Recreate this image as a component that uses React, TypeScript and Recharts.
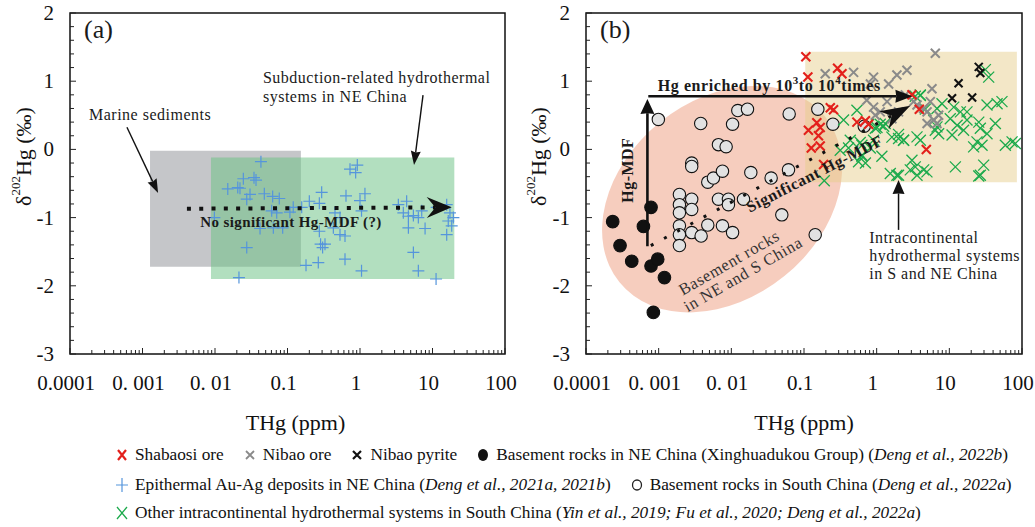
import React from 'react';
import { ScatterChart, Scatter, XAxis, YAxis, ReferenceArea, ReferenceLine, ReferenceDot, Label } from 'recharts';

const FONT = '"Liberation Serif", "Times New Roman", Times, serif';

// ---------- axes ----------
const X_MAJOR = [0.0001, 0.001, 0.01, 0.1, 1, 10, 100];
const X_MAJOR_LABELS = ['0.0001', '0. 001', '0. 01', '0.1', '1', '10', '100'];
const X_MINOR_MULT = [2, 3, 4, 5, 6, 7, 8, 9];
const Y_MAJOR = [-3, -2, -1, 0, 1, 2];
const Y_MAJOR_LABELS = ['-3', '-2', '-1', '0', '1', '2'];
const Y_MINOR_COUNT = 26; // every 0.2 from -3 to 2

const X_TICKS = [...X_MAJOR, ...X_MAJOR.slice(0, -1).flatMap((d) => X_MINOR_MULT.map((m) => m * d))].sort((a, b) => a - b);
const Y_TICKS = Array.from({ length: Y_MINOR_COUNT }, (_, i) => Math.round((-3 + i * 0.2) * 10) / 10);

// ---------- panel (a) data ----------
const epithermalAuAg: number[][] = [
  [0.043, -0.18], [0.015, -0.58], [0.0206, -0.56], [0.0246, -0.43], [0.0345, -0.415], [0.0368, -0.45],
  [0.0274, -0.73], [0.0304, -0.66], [0.0479, -0.65], [0.0624, -0.69], [0.077, -0.72], [0.0098, -1.0],
  [0.0418, -1.16], [0.0638, -1.15], [0.0858, -1.15], [0.0274, -1.44], [0.0214, -1.88], [0.728, -0.29],
  [0.918, -0.23], [0.871, -0.34], [0.296, -0.63], [0.641, -0.68], [1.17, -0.65], [1.0, -0.75],
  [0.2, -0.76], [0.275, -0.79], [0.12, -0.85], [0.108, -0.92], [0.429, -1.15], [0.53, -1.25],
  [0.621, -1.27], [0.286, -1.39], [0.329, -1.39], [0.305, -1.44], [0.275, -1.2], [0.621, -1.61],
  [0.266, -1.66], [0.18, -1.7], [1.05, -1.78], [4.4, -0.76], [3.38, -0.81], [3.96, -0.93],
  [4.65, -0.98], [5.45, -0.97], [6.38, -1.0], [7.1, -0.9], [7.9, -1.16], [4.65, -1.15],
  [5.45, -1.51], [6.38, -1.78], [11.2, -1.9], [15.7, -0.81], [17.4, -0.93], [19.4, -1.0],
  [16.5, -1.05], [15.7, -1.25], [18.4, -1.12], [11.4, -0.85], [0.53, -1.0], [0.157, -0.85],
  [0.0605, -0.9], [0.071, -0.93], [0.452, -0.93], [1.05, -0.9], [0.0221, -0.57],
];

// ---------- panel (b) data ----------
const basementNE: number[][] = [
  [0.000233, -1.06], [0.000294, -1.41], [0.000426, -1.64], [0.000617, -1.13], [0.000785, -0.85],
  [0.000785, -1.71], [0.00097, -1.61], [0.0012, -1.88], [0.000845, -2.39],
];
const basementSouth: number[][] = [
  [0.00099, 0.44], [0.00379, 0.38], [0.0104, 0.37], [0.01228, 0.57], [0.01668, 0.59], [0.0625, 0.52],
  [0.155, 0.59], [0.25, 0.37], [0.00665, 0.07], [0.00848, 0.04], [0.00285, -0.2], [0.00285, -0.25],
  [0.00474, -0.48], [0.00567, -0.42], [0.00755, -0.32], [0.01854, -0.34], [0.0612, -0.3], [0.0353, -0.42],
  [0.00193, -0.66], [0.00193, -0.81], [0.00193, -0.93], [0.00193, -1.12], [0.00193, -1.25], [0.00193, -1.41],
  [0.00285, -0.73], [0.00285, -0.88], [0.00285, -1.22], [0.00384, -1.27], [0.00474, -1.11], [0.00665, -0.73],
  [0.00912, -0.73], [0.00912, -0.81], [0.00755, -1.12], [0.0104, -1.22], [0.0147, -0.73], [0.0495, -0.96],
  [0.1426, -1.25], [0.675, 0.34],
];
const otherIntracontinental: number[][] = [
  [31.3, 1.17], [34.8, 1.06], [3.99, 0.79], [6.76, 0.6], [7.93, 0.67], [11.5, 0.62], [14.2, 0.55],
  [17.5, 0.55], [33.0, 0.65], [45.4, 0.67], [53, 0.7], [0.535, 0.574], [0.35, 0.43], [1.31, 0.38],
  [0.957, 0.31], [6.08, 0.43], [6.76, 0.33], [10.3, 0.45], [12.8, 0.355], [17.5, 0.43], [25.4, 0.4],
  [26.7, 0.31], [43, 0.38], [33, 0.23], [2.0, 0.16], [2.35, 0.135], [3.59, 0.184], [3.99, 0.135],
  [6.41, 0.28], [7.13, 0.23], [10.9, 0.21], [15.7, 0.28], [24, 0.11], [21.6, 0.037], [28.2, 0.06],
  [59, 0.06], [73, 0.11], [81, 0.086], [0.315, -0.012], [0.627, -0.085], [0.563, -0.18], [1.54, -0.354],
  [2.0, -0.378], [3.4, -0.256], [3.59, -0.378], [4.92, -0.33], [12.1, -0.256], [29.7, -0.23],
  [26.7, -0.378], [0.19, -0.46], [0.41, 0.02], [0.627, -0.1], [0.7, -0.2], [1.01, 0.32], [1.18, -0.1],
  [0.817, 0.02], [0.594, 0.1], [2.0, 0.22], [25.4, -0.39], [3.98, 0.8], [3.4, 0.78], [4.68, 0.59],
  [0.774, 0.37], [1.12, 0.37], [1.25, 0.34], [0.906, 0.135], [0.627, 0.06], [0.433, 0.135], [1.62, 0.18],
  [2.34, 0.135], [1.9, -0.38], [2.9, -0.3], [4.43, -0.3], [3.06, -0.16],
];
const nibaoOre: number[][] = [
  [0.196, 1.11], [0.481, 1.13], [0.906, 1.06], [1.9, 1.09], [2.61, 1.16], [6.41, 1.41], [0.82, 0.96],
  [1.46, 0.96], [0.73, 0.72], [0.906, 0.62], [1.39, 0.7], [2.0, 0.55], [1.12, 0.55], [3.59, 0.65],
  [5.77, 0.89], [5.47, 0.7], [4.94, 0.55], [7.13, 0.5], [6.08, 0.43], [3.22, 0.7], [0.957, 0.5],
  [1.62, 0.45], [2.48, 0.8], [4.43, 0.6], [6.76, 0.38], [4.94, 0.38],
];
const shabaosiOre: number[][] = [
  [0.106, 1.36], [0.113, 1.06], [0.29, 1.19], [0.333, 1.11], [0.23, 0.61], [0.255, 0.58], [0.115, 0.28],
  [0.15, 0.39], [0.167, 0.32], [0.158, 0.2], [0.126, 0.02], [0.167, 0.05], [0.186, -0.22], [0.535, 0.4],
  [0.7, 0.42], [0.774, 0.37], [3.06, 0.8], [3.86, 0.59], [4.82, 0.0],
];
const nibaoPyrite: number[][] = [[25.4, 1.21], [26.7, 1.12], [13.4, 0.97], [10.9, 0.75], [20.6, 0.76]];

// ---------- fields & annotations (data coordinates) ----------
const MARINE_BOX = { x1: 0.00127, x2: 0.153, y1: -1.72, y2: -0.02 };
const SUBDUCTION_BOX = { x1: 0.0088, x2: 20, y1: -1.9, y2: -0.12 };
const INTRA_BOX = { x1: 0.104, x2: 85, y1: -0.48, y2: 1.43 };
const BASEMENT_CENTER = { x: 0.00746, y: -0.73 };

const toPts = (arr: number[][]) => arr.map(([x, y]) => ({ x, y }));

const LEGEND_ROWS = [
  [
    { m: 'xRed', t: 'Shabaosi ore' },
    { m: 'xGray', t: 'Nibao ore' },
    { m: 'xBlack', t: 'Nibao pyrite' },
    { m: 'dotBlack', t: 'Basement rocks in NE China (Xinghuadukou Group) (', i: 'Deng et al., 2022b', e: ')' },
  ],
  [
    { m: 'plusBlue', t: 'Epithermal Au-Ag deposits in NE China (', i: 'Deng et al., 2021a, 2021b', e: ')' },
    { m: 'dotGray', t: 'Basement rocks in South China (', i: 'Deng et al., 2022a', e: ')' },
  ],
  [
    { m: 'xGreen', t: 'Other intracontinental hydrothermal systems in South China (', i: 'Yin et al., 2019; Fu et al., 2020; Deng et al., 2022a', e: ')' },
  ],
];

// ---------- colors ----------
const C = {
  red: '#e3201b',
  gray: '#8a8a8a',
  black: '#111111',
  green: '#1caa4c',
  blue: '#5595dc',
  circleFill: '#e2e2e2',
  marine: '#c5c6c9',
  subduction: '#6cc184',
  intra: '#e6cc8a',
  basement: '#f3bca8',
  text: '#1a1a1a',
};

// ---------- marker shapes ----------
const xShape = (color: string, r: number, sw: number) => (p: any) => {
  const { cx, cy } = p;
  if (cx == null || cy == null) return <g />;
  return (
    <path d={`M${cx - r},${cy - r}L${cx + r},${cy + r}M${cx - r},${cy + r}L${cx + r},${cy - r}`} stroke={color} strokeWidth={sw} fill="none" />
  );
};
const plusShape = (color: string, r: number, sw: number) => (p: any) => {
  const { cx, cy } = p;
  if (cx == null || cy == null) return <g />;
  return <path d={`M${cx - r},${cy}L${cx + r},${cy}M${cx},${cy - r}L${cx},${cy + r}`} stroke={color} strokeWidth={sw} fill="none" />;
};
const circleShape = (fill: string, stroke: string, r: number) => (p: any) => {
  const { cx, cy } = p;
  if (cx == null || cy == null) return <g />;
  return <circle cx={cx} cy={cy} r={r} fill={fill} stroke={stroke} strokeWidth={1.1} />;
};

// ---------- arrow shape for ReferenceLine ----------
type ArrowOpt = { w: number; len: number; hw: number; notch?: number; dash?: string; color?: string };
const arrowShape = (o: ArrowOpt) => (p: any) => {
  const { x1, y1, x2, y2 } = p;
  if ([x1, y1, x2, y2].some((v) => v == null || isNaN(v))) return <g />;
  const dx = x2 - x1;
  const dy = y2 - y1;
  const L = Math.hypot(dx, dy) || 1;
  const ux = dx / L;
  const uy = dy / L;
  const nx = -uy;
  const ny = ux;
  const bx = x2 - ux * o.len;
  const by = y2 - uy * o.len;
  const notch = o.notch ?? 0;
  const mx = x2 - ux * o.len * (1 - notch);
  const my = y2 - uy * o.len * (1 - notch);
  const h = o.hw / 2;
  const col = o.color ?? '#111';
  const pts = `${x2},${y2} ${bx + nx * h},${by + ny * h} ${mx},${my} ${bx - nx * h},${by - ny * h}`;
  return (
    <g>
      <line x1={x1} y1={y1} x2={mx} y2={my} stroke={col} strokeWidth={o.w} strokeDasharray={o.dash} />
      <polygon points={pts} fill={col} />
    </g>
  );
};

// ---------- text shapes for ReferenceDot ----------
type TOpt = { size: number; weight?: string | number; anchor?: 'start' | 'middle' | 'end'; rotate?: number; lh?: number; ls?: number; color?: string };
const textShape = (lines: string[], o: TOpt) => (p: any) => {
  const { cx, cy } = p;
  if (cx == null || cy == null) return <g />;
  return (
    <text
      x={cx}
      y={cy}
      fontFamily={FONT}
      fontSize={o.size}
      fontWeight={o.weight ?? 'normal'}
      textAnchor={o.anchor ?? 'start'}
      letterSpacing={o.ls ?? 0}
      fill={o.color ?? C.text}
      transform={o.rotate ? `rotate(${o.rotate} ${cx} ${cy})` : undefined}
    >
      {lines.map((l, i) => (
        <tspan key={i} x={cx} dy={i === 0 ? 0 : o.lh ?? o.size * 1.15}>
          {l}
        </tspan>
      ))}
    </text>
  );
};

const enrichedShape = (p: any) => {
  const { cx, cy } = p;
  if (cx == null || cy == null) return <g />;
  return (
    <text x={cx} y={cy} fontFamily={FONT} fontSize={16} fontWeight="bold" textAnchor="middle" letterSpacing={0.6} fill={C.text}>
      Hg enriched by 10
      <tspan fontSize={11} dy={-7}>3</tspan>
      <tspan dy={7}>to 10</tspan>
      <tspan fontSize={11} dy={-7}>4</tspan>
      <tspan dy={7}>times</tspan>
    </text>
  );
};

const ellipseShape = (p: any) => {
  const { cx, cy } = p;
  if (cx == null || cy == null) return <g />;
  return <ellipse cx={cx} cy={cy} rx={132} ry={99} transform={`rotate(-39 ${cx} ${cy})`} fill={C.basement} fillOpacity={0.75} />;
};

// ---------- axis ticks & labels ----------
const XTick = (p: any) => {
  const { x, y, payload } = p;
  const v = payload?.value;
  const i = X_MAJOR.findIndex((m) => Math.abs(Math.log10(m) - Math.log10(v)) < 1e-6);
  const major = i >= 0;
  return (
    <g>
      <line x1={x} y1={y} x2={x} y2={y - (major ? 6 : 4)} stroke="#222" strokeWidth={1} />
      {major && (
        <text x={x - 4} y={y + 36} textAnchor="middle" fontFamily={FONT} fontSize={21} fill="#111">
          {X_MAJOR_LABELS[i]}
        </text>
      )}
    </g>
  );
};
const YTick = (p: any) => {
  const { x, y, payload } = p;
  const v = payload?.value;
  const i = Y_MAJOR.findIndex((m) => Math.abs(m - v) < 1e-6);
  const major = i >= 0;
  return (
    <g>
      <line x1={x} y1={y} x2={x + (major ? 6 : 4)} y2={y} stroke="#222" strokeWidth={1} />
      {major && (
        <text x={x - 16} y={y + 7} textAnchor="end" fontFamily={FONT} fontSize={21} fill="#111">
          {Y_MAJOR_LABELS[i]}
        </text>
      )}
    </g>
  );
};

const xLabelContent = (shift: number) => (p: any) => {
  const vb = p?.viewBox || { x: 70, y: 354, width: 435, height: 86 };
  return (
    <text x={vb.x + vb.width / 2 + shift} y={vb.y + 76} textAnchor="middle" fontFamily={FONT} fontSize={22} fill="#111">
      THg (ppm)
    </text>
  );
};
const yLabelContent = (p: any) => {
  const vb = p?.viewBox || { x: 0, y: 13, width: 70, height: 341 };
  const cx = vb.x + 23;
  const cy = vb.y + vb.height / 2 - 27;
  return (
    <text x={cx} y={cy} transform={`rotate(-90 ${cx} ${cy})`} textAnchor="middle" dominantBaseline="central" fontFamily={FONT} fontSize={22} fill="#111">
      δ<tspan fontSize={13} dy={-8}>202</tspan>
      <tspan dy={8}>Hg (‰)</tspan>
    </text>
  );
};

const axesFor = (yWidth: number, xShift: number) => [
  <XAxis
    key="x"
    type="number"
    dataKey="x"
    scale="log"
    domain={[0.0001, 100]}
    allowDataOverflow
    ticks={X_TICKS}
    interval={0}
    tick={XTick}
    tickLine={false}
    axisLine={false}
    tickSize={0}
    tickMargin={0}
    height={86}
  >
    <Label content={xLabelContent(xShift)} />
  </XAxis>,
  <YAxis
    key="y"
    type="number"
    dataKey="y"
    domain={[-3, 2]}
    allowDataOverflow
    ticks={Y_TICKS}
    interval={0}
    tick={YTick}
    tickLine={false}
    axisLine={false}
    tickSize={0}
    tickMargin={0}
    width={yWidth}
  >
    <Label content={yLabelContent} />
  </YAxis>,
];

const frame = (
  <ReferenceArea key="frame" x1={0.0001} x2={100} y1={-3} y2={2} fill="none" fillOpacity={0} stroke="#111" strokeWidth={1.5} ifOverflow="visible" {...({ zIndex: 900 } as any)} />
);

const Z_TOP = { zIndex: 800 } as any;

// ---------- legend ----------
const LegendMarker = ({ m }: { m: string }) => {
  const s = 16;
  const c = s / 2;
  let el: React.ReactNode = null;
  if (m === 'xRed') el = <path d={`M${c - 4},${c - 5}L${c + 4},${c + 5}M${c - 4},${c + 5}L${c + 4},${c - 5}`} stroke={C.red} strokeWidth={2.2} />;
  if (m === 'xGray') el = <path d={`M${c - 4},${c - 4}L${c + 4},${c + 4}M${c - 4},${c + 4}L${c + 4},${c - 4}`} stroke={C.gray} strokeWidth={1.8} />;
  if (m === 'xBlack') el = <path d={`M${c - 4},${c - 4}L${c + 4},${c + 4}M${c - 4},${c + 4}L${c + 4},${c - 4}`} stroke={C.black} strokeWidth={2.2} />;
  if (m === 'xGreen') el = <path d={`M${c - 5},${c - 6}L${c + 5},${c + 6}M${c - 5},${c + 6}L${c + 5},${c - 6}`} stroke={C.green} strokeWidth={1.3} />;
  if (m === 'plusBlue') el = <path d={`M${c - 6},${c}L${c + 6},${c}M${c},${c - 7}L${c},${c + 7}`} stroke={C.blue} strokeWidth={1.2} />;
  if (m === 'dotBlack') el = <ellipse cx={c} cy={c} rx={5} ry={6} fill={C.black} />;
  if (m === 'dotGray') el = <ellipse cx={c} cy={c} rx={4.5} ry={5} fill="#fff" stroke="#222" strokeWidth={1.3} />;
  return (
    <svg width={s} height={s} style={{ display: 'block', flex: '0 0 auto' }}>
      {el}
    </svg>
  );
};

const LEGEND_TOPS = [445, 475, 503];

const Legend = () => (
  <>
    {LEGEND_ROWS.map((row, ri) => (
      <div
        key={ri}
        style={{ position: 'absolute', left: 114, top: LEGEND_TOPS[ri], height: 20, display: 'flex', alignItems: 'center', whiteSpace: 'nowrap', fontFamily: FONT, fontSize: 17.3, color: '#111' }}
      >
        {row.map((it: any, k) => (
          <div key={k} style={{ display: 'flex', alignItems: 'center', marginRight: 18 }}>
            <LegendMarker m={it.m} />
            <span style={{ marginLeft: 5 }}>
              {it.t}
              {it.i && <i>{it.i}</i>}
              {it.e}
            </span>
          </div>
        ))}
      </div>
    ))}
  </>
);

export default function App() {
  return (
    <div style={{ position: 'absolute', left: 0, top: 0, width: 1035, height: 527, background: '#fff', overflow: 'hidden' }}>
      {/* Panel (a) */}
      <div style={{ position: 'absolute', left: 0, top: 0 }}>
        <ScatterChart width={520} height={440} margin={{ top: 13, right: 15, bottom: 0, left: 0 }}>
          {axesFor(70, 8)}
          <ReferenceArea x1={MARINE_BOX.x1} x2={MARINE_BOX.x2} y1={MARINE_BOX.y1} y2={MARINE_BOX.y2} fill={C.marine} fillOpacity={1} stroke="none" />
          <ReferenceArea x1={SUBDUCTION_BOX.x1} x2={SUBDUCTION_BOX.x2} y1={SUBDUCTION_BOX.y1} y2={SUBDUCTION_BOX.y2} fill={C.subduction} fillOpacity={0.52} stroke="none" />
          <Scatter data={toPts(epithermalAuAg)} shape={plusShape(C.blue, 6, 1.2)} isAnimationActive={false} />
          <ReferenceLine segment={[{ x: 0.0041, y: -0.87 }, { x: 18.4, y: -0.85 }]} ifOverflow="visible" shape={arrowShape({ w: 4, len: 25, hw: 21, notch: 0.35, dash: '4 8.3' })} {...Z_TOP} />
          <ReferenceLine segment={[{ x: 0.00061, y: 0.325 }, { x: 0.00164, y: -0.64 }]} ifOverflow="visible" shape={arrowShape({ w: 1.4, len: 14, hw: 10, notch: 0.1 })} {...Z_TOP} />
          <ReferenceLine segment={[{ x: 7.4, y: 0.795 }, { x: 5.56, y: -0.23 }]} ifOverflow="visible" shape={arrowShape({ w: 1.4, len: 14, hw: 10, notch: 0.1 })} {...Z_TOP} />
          <ReferenceDot x={0.1117} y={-1.14} ifOverflow="visible" shape={textShape(['No significant Hg-MDF (?)'], { size: 15, weight: 'bold', anchor: 'middle', ls: 0.4 })} {...Z_TOP} />
          <ReferenceDot x={0.000183} y={0.43} ifOverflow="visible" shape={textShape(['Marine sediments'], { size: 16, ls: 0.5 })} {...Z_TOP} />
          <ReferenceDot x={0.0459} y={0.97} ifOverflow="visible" shape={textShape(['Subduction-related hydrothermal', 'systems in NE China'], { size: 16, ls: 0.5, lh: 19 })} {...Z_TOP} />
          <ReferenceDot x={0.000156} y={1.63} ifOverflow="visible" shape={textShape(['(a)'], { size: 26 })} {...Z_TOP} />
          {frame}
        </ScatterChart>
      </div>

      {/* Panel (b) */}
      <div style={{ position: 'absolute', left: 515, top: 0 }}>
        <ScatterChart width={520} height={440} margin={{ top: 13, right: 13, bottom: 0, left: 0 }}>
          {axesFor(71, 0)}
          <ReferenceDot x={BASEMENT_CENTER.x} y={BASEMENT_CENTER.y} ifOverflow="visible" shape={ellipseShape} {...({ zIndex: 90 } as any)} />
          <ReferenceArea x1={INTRA_BOX.x1} x2={INTRA_BOX.x2} y1={INTRA_BOX.y1} y2={INTRA_BOX.y2} fill={C.intra} fillOpacity={0.48} stroke="none" />
          <Scatter data={toPts(basementNE)} shape={circleShape(C.black, C.black, 6.3)} isAnimationActive={false} />
          <Scatter data={toPts(basementSouth)} shape={circleShape(C.circleFill, '#111', 6.2)} isAnimationActive={false} />
          <Scatter data={toPts(otherIntracontinental)} shape={xShape(C.green, 5.5, 1.3)} isAnimationActive={false} />
          <Scatter data={toPts(nibaoOre)} shape={xShape(C.gray, 4.5, 2)} isAnimationActive={false} />
          <Scatter data={toPts(shabaosiOre)} shape={xShape(C.red, 4.5, 2.1)} isAnimationActive={false} />
          <Scatter data={toPts(nibaoPyrite)} shape={xShape(C.black, 4, 2.1)} isAnimationActive={false} />
          <ReferenceLine segment={[{ x: 0.0007, y: -1.42 }, { x: 0.0007, y: 0.74 }]} ifOverflow="visible" shape={arrowShape({ w: 2.6, len: 15, hw: 14, notch: 0.05 })} {...Z_TOP} />
          <ReferenceLine segment={[{ x: 0.00072, y: 0.78 }, { x: 3.1, y: 0.78 }]} ifOverflow="visible" shape={arrowShape({ w: 2.6, len: 17, hw: 13, notch: 0.05 })} {...Z_TOP} />
          <ReferenceLine segment={[{ x: 0.00078, y: -1.41 }, { x: 2.9, y: 0.64 }]} ifOverflow="visible" shape={arrowShape({ w: 3, len: 30, hw: 20, notch: 0.3, dash: '3 12' })} {...Z_TOP} />
          <ReferenceLine segment={[{ x: 2.0, y: -1.18 }, { x: 2.0, y: -0.45 }]} ifOverflow="visible" shape={arrowShape({ w: 1.5, len: 14, hw: 12, notch: 0.05 })} {...Z_TOP} />
          <ReferenceDot x={0.0332} y={0.85} ifOverflow="visible" shape={enrichedShape} {...Z_TOP} />
          <ReferenceDot x={0.000449} y={-0.305} ifOverflow="visible" shape={textShape(['Hg-MDF'], { size: 16, weight: 'bold', anchor: 'middle', rotate: -90, ls: 0.5 })} {...Z_TOP} />
          <ReferenceDot x={0.151} y={-0.426} ifOverflow="visible" shape={textShape(['Significant Hg-MDF'], { size: 16, weight: 'bold', anchor: 'middle', rotate: -27, ls: 0.6 })} {...Z_TOP} />
          <ReferenceDot x={0.01017} y={-1.73} ifOverflow="visible" shape={textShape(['Basement  rocks'], { size: 16.5, anchor: 'middle', rotate: -30, ls: 0.6, color: '#333' })} {...Z_TOP} />
          <ReferenceDot x={0.01585} y={-1.9} ifOverflow="visible" shape={textShape(['in NE and S China'], { size: 16.5, anchor: 'middle', rotate: -30, ls: 0.6, color: '#333' })} {...Z_TOP} />
          <ReferenceDot x={0.79} y={-1.375} ifOverflow="visible" shape={textShape(['Intracontinental', 'hydrothermal systems', 'in S and NE China'], { size: 16, ls: 0.5, lh: 18 })} {...Z_TOP} />
          <ReferenceDot x={0.000156} y={1.63} ifOverflow="visible" shape={textShape(['(b)'], { size: 26 })} {...Z_TOP} />
          {frame}
        </ScatterChart>
      </div>

      <Legend />
    </div>
  );
}
